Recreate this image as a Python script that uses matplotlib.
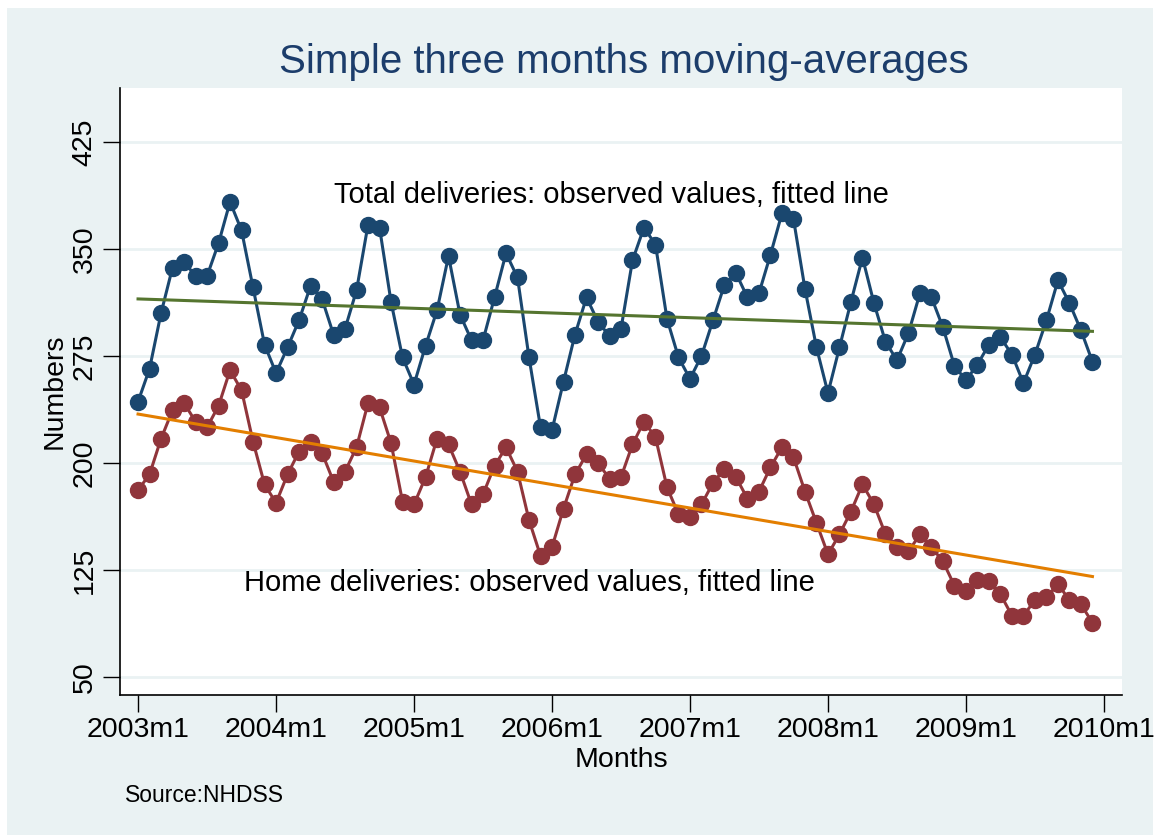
import numpy as np
import matplotlib
matplotlib.use("Agg")
import matplotlib.pyplot as plt
from matplotlib.patches import Rectangle

plt.rcParams['font.family'] = ['Liberation Sans', 'DejaVu Sans']

# monthly 3-month moving averages, 2003m1 .. 2009m12
total = [243, 266, 305, 337, 341, 331, 331, 354, 383, 363, 323, 283,
         263, 281, 300, 324, 315, 290, 294, 321, 367, 365, 313, 274,
         255, 282, 307, 345, 304, 286, 286, 316, 347, 330, 274, 225,
         223, 257, 290, 316, 299, 289, 294, 342, 365, 353, 301, 274,
         259, 275, 300, 325, 333, 316, 319, 346, 375, 371, 322, 281,
         249, 281, 313, 344, 312, 285, 272, 291, 319, 316, 295, 268,
         258, 269, 283, 288, 276, 256, 276, 300, 328, 312, 293, 271]
home = [181, 192, 217, 237, 242, 229, 225, 240, 265, 251, 215, 185,
        172, 192, 208, 215, 207, 187, 194, 211, 242, 239, 214, 173,
        171, 190, 217, 213, 194, 171, 178, 198, 211, 194, 160, 135,
        141, 168, 192, 206, 200, 189, 190, 213, 229, 218, 183, 164,
        162, 171, 186, 196, 190, 175, 180, 197, 211, 204, 180, 158,
        136, 150, 166, 185, 171, 150, 141, 138, 150, 141, 131, 114,
        110, 118, 117, 108, 93, 93, 104, 106, 115, 104, 101, 88]
tick_labels = ['2003m1', '2004m1', '2005m1', '2006m1', '2007m1', '2008m1', '2009m1', '2010m1']
yticks = [50, 125, 200, 275, 350, 425]

navy = '#1a476f'
maroon = '#90353b'
green = '#55752f'
orange = '#e37e00'
bg = '#eaf2f3'

W, H = 1161, 836
fig = plt.figure(figsize=(W / 100, H / 100), dpi=100)
fig.patches.append(Rectangle((7 / W, 1 / H), 1146 / W, 827 / H,
                             transform=fig.transFigure, facecolor=bg,
                             edgecolor='none', zorder=-10))

ax = fig.add_axes([120 / W, (H - 695) / H, 1002 / W, 607 / H])
ax.set_facecolor('white')

months = np.arange(len(total))
for yt in yticks:
    ax.axhline(yt, color=bg, lw=2, zorder=0)

ax.plot(months, total, color=navy, lw=2.2, marker='o', ms=11.5, zorder=3)
ax.plot(months, home, color=maroon, lw=2.2, marker='o', ms=11.5, zorder=3)

# linear fits
ft = np.polyfit(months, total, 1)
fh = np.polyfit(months, home, 1)
ax.plot(months, np.polyval(ft, months), color=green, lw=2.2, zorder=4)
ax.plot(months, np.polyval(fh, months), color=orange, lw=2.2, zorder=4)

ax.text(41.2, 388, 'Total deliveries: observed values, fitted line',
        ha='center', va='center', fontsize=21)
ax.text(34, 116, 'Home deliveries: observed values, fitted line',
        ha='center', va='center', fontsize=21)

ax.set_xlim(-1.57, 85.57)
ax.set_ylim(37.4, 462.8)
ax.set_xticks(np.arange(0, 85, 12))
ax.set_xticklabels(tick_labels, fontsize=20.5)
ax.set_yticks(yticks)
ax.set_yticklabels([str(v) for v in yticks], fontsize=20.5, rotation=90, va='center')
ax.tick_params(length=12, width=1, direction='out')
ax.tick_params(axis='y', pad=4)

for s in ['top', 'right']:
    ax.spines[s].set_visible(False)
for s in ['left', 'bottom']:
    ax.spines[s].set_linewidth(1.2)

ax.set_xlabel('Months', fontsize=20.5, labelpad=3)
ax.set_ylabel('Numbers', fontsize=20.5, labelpad=3)

fig.text(624 / W, 1 - 62 / H, 'Simple three months moving-averages',
         ha='center', va='center', fontsize=29, color='#1c3d6b')
fig.text(125 / W, 1 - 795 / H, 'Source:NHDSS', ha='left', va='center', fontsize=16.5)

fig.savefig('out.png', dpi=100, facecolor='white')
